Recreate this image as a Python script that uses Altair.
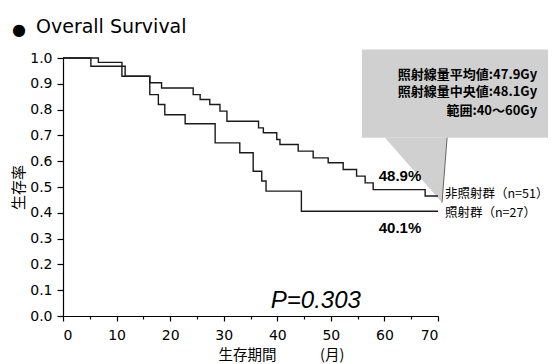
import altair as alt
import pandas as pd

# Kaplan-Meier steps (months, survival)
non_irr_t = [0, 6.6, 11.0, 16.2, 18.4, 24.3, 25.6, 27.4, 29.3, 30.6, 36.5, 37.4,
             39.9, 40.5, 43.9, 46.7, 49.5, 52.3, 54.8, 56.4, 57.9, 67.6, 70]
non_irr_s = [1.0, 0.983, 0.929, 0.904, 0.884, 0.858, 0.839, 0.820, 0.794, 0.755,
             0.729, 0.710, 0.684, 0.665, 0.639, 0.613, 0.594, 0.568, 0.542, 0.516,
             0.490, 0.465, 0.465]
irr_t = [0, 5.2, 11.6, 16.2, 17.8, 19.0, 22.8, 28.4, 33.0, 35.5, 37.1, 37.9, 44.5, 70]
irr_s = [1.0, 0.968, 0.929, 0.858, 0.820, 0.780, 0.745, 0.671, 0.633, 0.561,
         0.523, 0.484, 0.406, 0.406]

group_labels = ["非照射群（n=51）", "照射群（n=27）"]
group_label_t = [71.3, 71.3]
group_label_s = [0.471, 0.401]

pct_labels = ["48.9%", "40.1%"]
pct_t = [62.9, 62.9]
pct_s = [0.543, 0.340]

box_lines = ["照射線量平均値:47.9Gy", "照射線量中央値:48.1Gy", "範囲:40～60Gy"]
box_line_t = [88.5, 88.5, 88.5]
box_line_s = [0.936, 0.867, 0.794]

box_t = [55.8]
box_t2 = [96.0]
box_s = [0.691]
box_s2 = [1.033]

pointer_t = [60.1, 70.75, 71.7]
pointer_s = [0.691, 0.440, 0.691]

p_text = ["P=0.303"]
p_t = [47.2]
p_s = [0.057]

title_text = ["Overall Survival"]
title_t = [-5.04]
title_s = [1.098]
bullet_t = [-8.2]
bullet_s = [1.108]

x_ticks = list(range(0, 75, 5))
y_ticks = [i / 10 for i in range(11)]

xenc = alt.X(
    "t:Q",
    scale=alt.Scale(domain=[0, 70], nice=False, zero=False),
    axis=alt.Axis(
        values=x_ticks,
        labelExpr="datum.value % 10 === 0 ? datum.label : ''",
        tickSize={"expr": "datum.value % 10 === 0 ? 5 : 3"},
        labelPadding=7,
        title="生存期間　　　(月)",
        titleFont="Noto Sans CJK JP",
        titleFontSize=14.5,
        titleFontWeight="normal",
        titleAnchor="start",
        titleAlign="left",
        titleX=155,
        titleY=39,
        titleBaseline="middle",
        grid=False,
    ),
)
yenc = alt.Y(
    "s:Q",
    scale=alt.Scale(domain=[0, 1], nice=False, zero=False),
    axis=alt.Axis(
        values=y_ticks,
        format=".1f",
        tickSize=6,
        labelPadding=5,
        title="生存率",
        titleFont="Noto Sans CJK JP",
        titleFontSize=15,
        titleFontWeight="normal",
        titleX=-45,
        titleY=129,
        titleAngle=-90,
        titleBaseline="middle",
        titleAlign="center",
        grid=False,
    ),
)

curves = pd.DataFrame(
    {"t": non_irr_t + irr_t, "s": non_irr_s + irr_s,
     "g": ["non"] * len(non_irr_t) + ["irr"] * len(irr_t)}
)

box = alt.Chart(pd.DataFrame({"t": box_t, "t2": box_t2, "s": box_s, "s2": box_s2})).mark_rect(
    fill="#d0d0d0", clip=False
).encode(x=xenc, x2="t2:Q", y=yenc, y2="s2:Q")

pointer = alt.Chart(pd.DataFrame({"t": pointer_t, "s": pointer_s, "s2": [0.691] * 3})).mark_area(
    fill="#d0d0d0", clip=False
).encode(x=xenc, y=yenc, y2="s2:Q")

pointer_edge = alt.Chart(pd.DataFrame({"t": pointer_t[1:], "s": pointer_s[1:]})).mark_line(
    color="#666", strokeWidth=1, clip=False
).encode(x=xenc, y=yenc)

lines = alt.Chart(curves).mark_line(
    interpolate="step-after", color="#1a1a1a", strokeWidth=1.4
).encode(x=xenc, y=yenc, detail="g:N")

def text_layer(texts, ts, ss, **kw):
    df = pd.DataFrame({"t": ts, "s": ss, "label": texts})
    return alt.Chart(df).mark_text(clip=False, color="black", **kw).encode(
        x=xenc, y=yenc, text="label:N"
    )

box_text = text_layer(box_lines, box_line_t, box_line_s, align="right", baseline="middle",
                      font="Noto Sans CJK JP", fontSize=13, fontWeight="bold")
grp_text = text_layer(group_labels, group_label_t, group_label_s, align="left", baseline="middle",
                      font="Noto Sans CJK JP", fontSize=12.5)
pct_text = text_layer(pct_labels, pct_t, pct_s, align="center", baseline="middle",
                      font="Liberation Sans", fontSize=15, fontWeight="bold")
p_layer = text_layer(p_text, p_t, p_s, align="center", baseline="middle",
                     font="Liberation Sans", fontSize=24, fontStyle="italic")
title_layer = text_layer(title_text, title_t, title_s, align="left", baseline="alphabetic",
                         font="DejaVu Sans", fontSize=19)
bullet_layer = text_layer(["●"], bullet_t, bullet_s, align="center", baseline="middle",
                          font="DejaVu Sans", fontSize=16)

chart = alt.layer(
    box, pointer, pointer_edge, lines, box_text, grp_text, pct_text, p_layer,
    title_layer, bullet_layer
).properties(
    width=375, height=258,
    padding={"left": 55, "top": 50, "right": 110, "bottom": 48},
    autosize="none",
).configure_view(stroke=None).configure_axis(
    domainColor="black", tickColor="black", labelColor="black", titleColor="black",
    labelFont="DejaVu Sans", labelFontSize=14, domainWidth=1.2, tickWidth=1.2,
)

chart.save("out.html", embed_options={"renderer": "svg", "actions": False})
